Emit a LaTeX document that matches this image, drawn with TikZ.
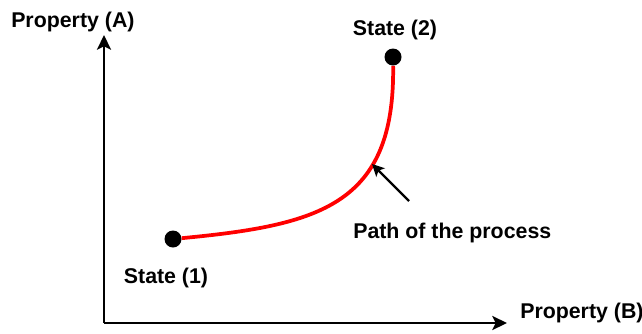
\documentclass[tikz,border=0pt]{standalone}
\usepackage{fontspec}
\setmainfont{Liberation Sans}
\usetikzlibrary{arrows.meta}

\begin{document}
\begin{tikzpicture}[x=0.75pt,y=-0.75pt,
 lbl/.style={font=\fontsize{16}{19}\selectfont\bfseries,inner sep=0pt},
 dot/.style={circle,fill=black,inner sep=0pt,minimum size=12.75pt},
 axis/.style={-{Stealth[length=11pt,width=10.5pt,inset=2.5pt]},line width=1.9pt},
 process/.style={red,line width=2.8pt},
 pointer/.style={-{Stealth[length=9pt,width=9pt,inset=2pt]},line width=1.7pt}]
\useasboundingbox (0,0) rectangle (642,333);
% axes
\coordinate (origin) at (104,323);
\coordinate (atop) at (104,35);
\coordinate (bend) at (507,323);
\draw[axis] (origin)--(atop);
\draw[axis] (origin)--(bend);
\node[lbl,anchor=base west] (propA) at (11,27) {Property (A)};
\node[lbl,anchor=base west] (propB) at (520,318) {Property (B)};
% states and process
\node[dot] (s1) at (173,239) {};
\node[dot] (s2) at (393,57) {};
\node[lbl,anchor=base] (s1lbl) at (166,283) {State (1)};
\node[lbl,anchor=base] (s2lbl) at (395,35) {State (2)};
\draw[process] (s1) .. controls (320,225) and (395,205) .. (s2);
\node[lbl,anchor=base west] (pathlbl) at (353,238) {Path of the process};
\coordinate (tail) at (409,201);
\coordinate (hit) at (372,164);
\draw[pointer] (tail)--(hit);
\end{tikzpicture}
\end{document}
